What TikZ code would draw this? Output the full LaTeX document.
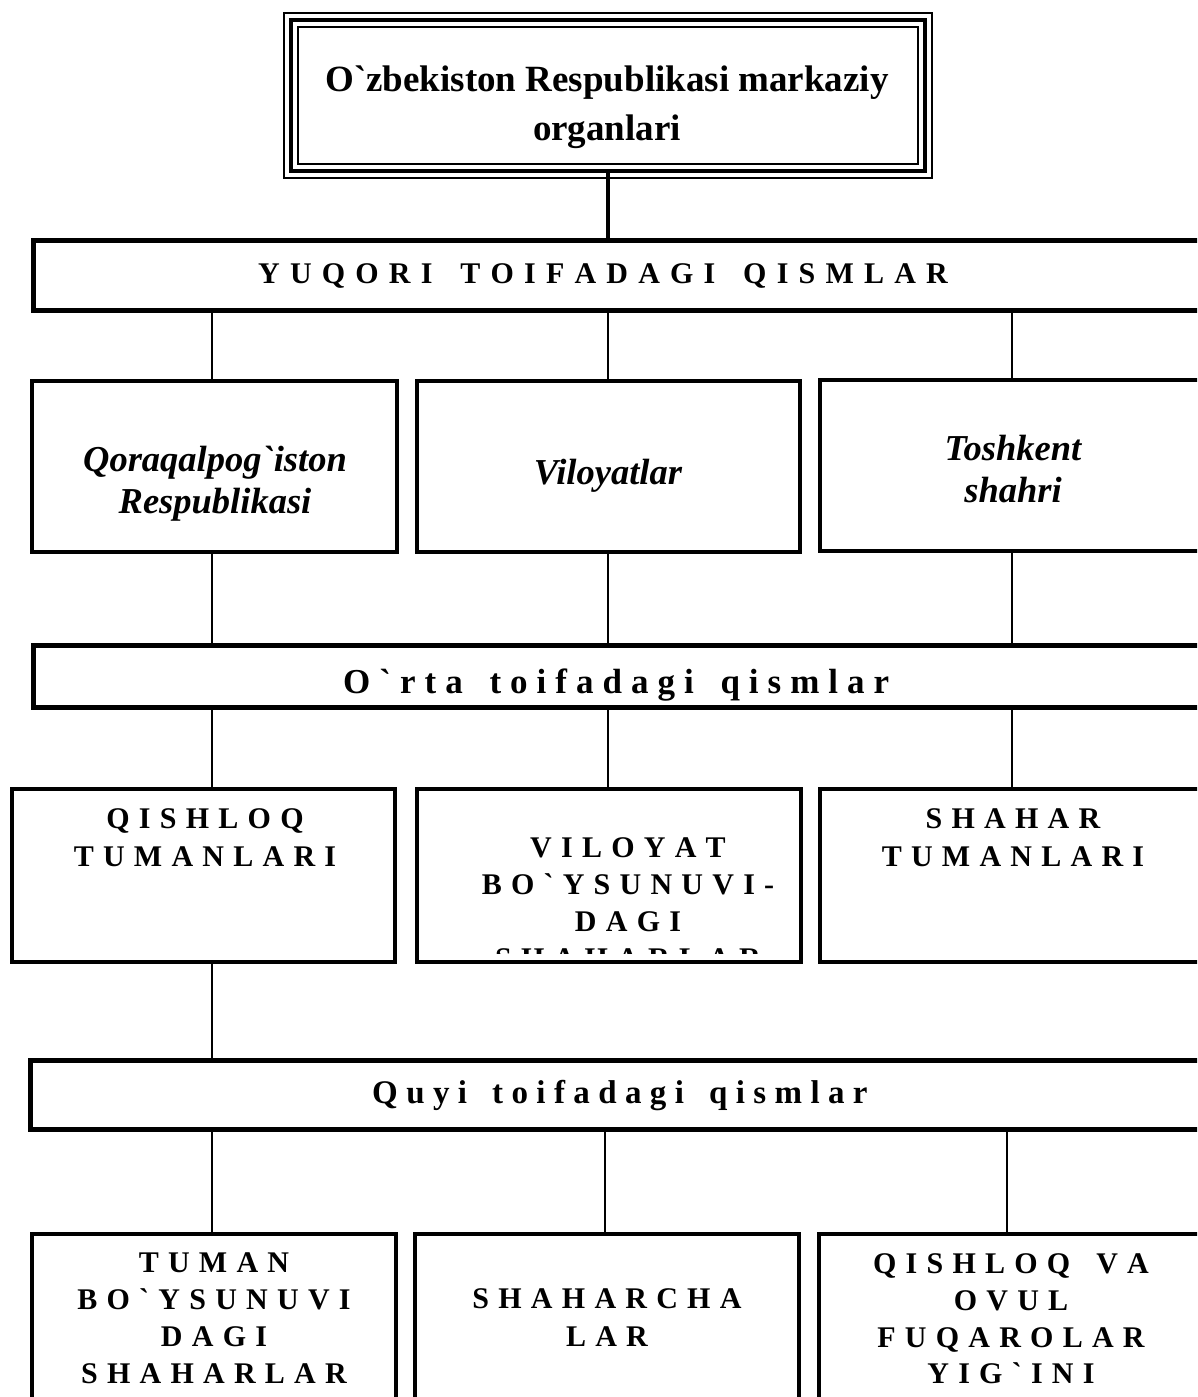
\documentclass[tikz,border=0pt]{standalone}
\usepackage{fontspec}
\setmainfont{Liberation Serif}[Ligatures=TeXOff]
\usetikzlibrary{calc}
\makeatletter
\newcommand\spacedtext[2]{\def\sp@gap{#1}\@tfor\sp@c:=#2\do{\sp@c\hspace{\sp@gap}}}
\makeatother
\begin{document}
\begin{tikzpicture}[x=1pt,y=-1pt,
  topbox/.style={draw, line width=4pt, outer sep=0pt, inner sep=0pt},
  barbox/.style={draw, line width=5pt, outer sep=0pt, inner sep=0pt},
  cellbox/.style={draw, line width=3.5pt, outer sep=0pt, inner sep=0pt},
  conn/.style={line width=2pt},
  topconn/.style={line width=4.5pt},
  toptx/.style={inner sep=0pt, anchor=base, font=\fontsize{37}{40}\selectfont\bfseries},
  bartx/.style={inner sep=0pt, anchor=base west},
  captx/.style={inner sep=0pt, anchor=base, font=\fontsize{30}{34}\selectfont\bfseries},
  itx/.style={inner sep=0pt, anchor=base, font=\fontsize{36.5}{40}\selectfont\bfseries\itshape}]
\useasboundingbox (0,0) rectangle (1197,1397);
\clip (0,0) rectangle (1197,1397);
\fill[white] (0,0) rectangle (1197,1397);

% connector x positions
\coordinate (xL) at (212,0);
\coordinate (xM) at (608,0);
\coordinate (xR) at (1012,0);
\coordinate (xM3) at (605,0);
\coordinate (xR3) at (1007,0);

% top box (triple frame)
\node[topbox, minimum width=634pt, minimum height=151pt] (top) at (608,95.5) {};
\draw[line width=1.5pt] ($(top.north west)+(-7,-7)$) rectangle ($(top.south east)+(7,7)$);
\draw[line width=1.5pt] ($(top.north west)+(7,7)$) rectangle ($(top.south east)+(-7,-7)$);
\node[toptx] (t0a) at (607,92) {O`zbekiston Respublikasi markaziy};
\node[toptx] (t0b) at (607,140) {organlari};

% bars
\node[barbox, minimum width=1217pt, minimum height=70pt] (bar1) at (641.5,275) {};
\node[bartx, font=\fontsize{30}{32}\selectfont\bfseries] (b1t) at (258,283) {\spacedtext{10.2pt}{YUQORI\ TOIFADAGI\ QISMLAR}};

\node[barbox, minimum width=1217pt, minimum height=62pt] (bar2) at (641.5,676) {};
\begin{scope}
\clip (35,647) rectangle (1250,704);
\node[bartx, font=\fontsize{35}{38}\selectfont\bfseries] (b2t) at (343,693) {\spacedtext{9pt}{O`rta\ toifadagi\ qismlar}};
\end{scope}

\node[barbox, minimum width=1220pt, minimum height=69pt] (bar3) at (640,1094.5) {};
\node[bartx, font=\fontsize{33}{36}\selectfont\bfseries] (b3t) at (372,1103) {\spacedtext{8.4pt}{Quyi\ toifadagi\ qismlar}};

% row 1
\node[cellbox, minimum width=365pt, minimum height=171pt] (r1a) at (214.5,466.5) {};
\node[cellbox, minimum width=383pt, minimum height=171pt] (r1b) at (608.5,466.5) {};
\node[cellbox, minimum width=384pt, minimum height=171pt] (r1c) at (1012,465.5) {};
\node[itx] (t1a1) at (215,471) {Qoraqalpog`iston};
\node[itx] (t1a2) at (215,513) {Respublikasi};
\node[itx] (t1b) at (608,484) {Viloyatlar};
\node[itx] (t1c1) at (1013,460) {Toshkent};
\node[itx] (t1c2) at (1013,502) {shahri};

% row 2
\node[cellbox, minimum width=383pt, minimum height=173pt] (r2a) at (203.5,875.5) {};
\node[cellbox, minimum width=384pt, minimum height=173pt] (r2b) at (609,875.5) {};
\node[cellbox, minimum width=384pt, minimum height=173pt] (r2c) at (1012,875.5) {};
\node[captx] (t2a1) at (205,828) {\spacedtext{9.25pt}{QISHLOQ}};
\node[captx] (t2a2) at (205,866) {\spacedtext{9.25pt}{TUMANLARI}};
\begin{scope}
\clip (419,791) rectangle (799,953);
\node[captx] (t2b1) at (628,857) {\spacedtext{9.25pt}{VILOYAT}};
\node[captx] (t2b2) at (628,894) {\spacedtext{9.25pt}{BO`YSUNUVI-}};
\node[captx] (t2b3) at (628,931) {\spacedtext{9.25pt}{DAGI}};
\node[captx] (t2b4) at (628,968) {\spacedtext{9.25pt}{SHAHARLAR}};
\end{scope}
\node[captx] (t2c1) at (1013,828) {\spacedtext{9.25pt}{SHAHAR}};
\node[captx] (t2c2) at (1013,866) {\spacedtext{9.25pt}{TUMANLARI}};

% row 3
\node[cellbox, minimum width=364pt, minimum height=186pt] (r3a) at (214,1327) {};
\node[cellbox, minimum width=384pt, minimum height=186pt] (r3b) at (607,1327) {};
\node[cellbox, minimum width=384pt, minimum height=186pt] (r3c) at (1011,1327) {};
\node[captx] (t3a1) at (214,1272) {\spacedtext{9.25pt}{TUMAN}};
\node[captx] (t3a2) at (214,1309) {\spacedtext{9.25pt}{BO`YSUNUVI}};
\node[captx] (t3a3) at (214,1346) {\spacedtext{9.25pt}{DAGI}};
\node[captx] (t3a4) at (214,1383) {\spacedtext{9.25pt}{SHAHARLAR}};
\node[captx] (t3b1) at (607,1308) {\spacedtext{9.25pt}{SHAHARCHA}};
\node[captx] (t3b2) at (607,1346) {\spacedtext{9.25pt}{LAR}};
\node[captx] (t3c1) at (1011,1273) {\spacedtext{9.25pt}{QISHLOQ\ VA}};
\node[captx] (t3c2) at (1011,1310) {\spacedtext{9.25pt}{OVUL}};
\node[captx] (t3c3) at (1011,1347) {\spacedtext{9.25pt}{FUQAROLAR}};
\node[captx] (t3c4) at (1011,1383) {\spacedtext{9.25pt}{YIG`INI}};

% connectors
\draw[topconn] (top.south) -- (top.south |- bar1.north);
\draw[conn] (bar1.south -| xL) -- (r1a.north -| xL);
\draw[conn] (bar1.south -| xM) -- (r1b.north -| xM);
\draw[conn] (bar1.south -| xR) -- (r1c.north -| xR);
\draw[conn] (r1a.south -| xL) -- (bar2.north -| xL);
\draw[conn] (r1b.south -| xM) -- (bar2.north -| xM);
\draw[conn] (r1c.south -| xR) -- (bar2.north -| xR);
\draw[conn] (bar2.south -| xL) -- (r2a.north -| xL);
\draw[conn] (bar2.south -| xM) -- (r2b.north -| xM);
\draw[conn] (bar2.south -| xR) -- (r2c.north -| xR);
\draw[conn] (r2a.south -| xL) -- (bar3.north -| xL);
\draw[conn] (bar3.south -| xL) -- (r3a.north -| xL);
\draw[conn] (bar3.south -| xM3) -- (r3b.north -| xM3);
\draw[conn] (bar3.south -| xR3) -- (r3c.north -| xR3);
\end{tikzpicture}
\end{document}
